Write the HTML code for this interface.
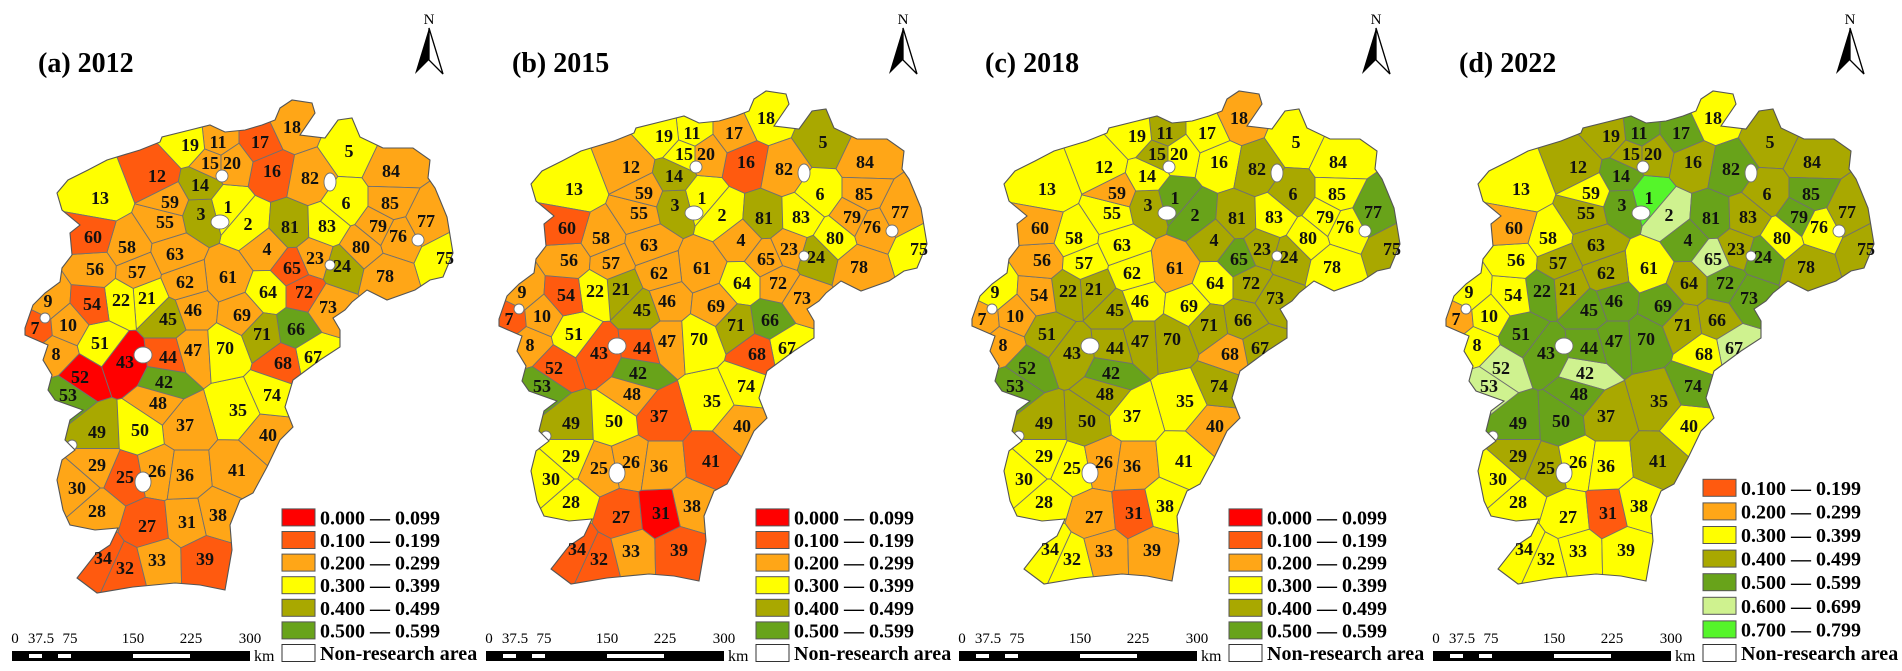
<!DOCTYPE html>
<html><head><meta charset="utf-8"><style>
html,body{margin:0;padding:0;background:#fff;}
svg{display:block;}
text{font-family:"Liberation Serif",serif;}
</style></head><body>
<svg id="fig" width="1902" height="671" viewBox="0 0 1902 671" xmlns="http://www.w3.org/2000/svg"></svg>
<script>
// region ids 1..85
const regionIds = Array.from({length:85},(_,i)=>i+1);
// class index per region (0: 0.0-0.099 ... 7: 0.7-0.799), ordered by region id
const class2012 = [3,3,4,2,3,3,1,2,2,2, 2,1,3,4,2,1,1,2,3,2, 3,3,2,4,1,2,1,2,2,2, 2,1,2,1,3,2,2,2,1,2, 2,5,0,1,4,2,2,2,4,3, 3,0,5,1,2,2,2,2,2,1, 2,2,2,3,1,5,3,1,2,3, 4,1,2,3,3,2,2,2,2,2, 4,2,3,2,2];
const class2015 = [3,3,4,2,4,3,1,2,2,2, 3,2,3,4,3,1,2,3,3,2, 4,3,2,4,2,2,1,3,3,3, 0,1,2,1,3,2,1,2,1,2, 1,5,1,1,4,2,2,2,4,3, 3,1,5,1,2,2,2,2,2,1, 2,2,2,3,2,5,3,1,2,3, 4,2,2,3,3,2,2,2,2,3, 4,2,3,2,2];
const class2018 = [5,5,4,4,3,4,2,2,3,2, 4,3,3,3,4,3,3,2,3,3, 4,4,4,4,3,2,2,3,3,3, 1,3,2,3,3,2,3,3,2,2, 3,5,4,4,4,3,4,4,4,4, 4,5,5,2,3,2,3,3,2,2, 2,3,3,3,5,4,4,2,3,4, 4,4,4,4,4,3,5,3,3,3, 4,4,3,3,3];
const class2022 = [7,6,5,5,4,4,2,3,3,3, 5,4,3,5,4,4,5,3,4,4, 4,5,4,5,4,3,3,3,4,3, 1,3,3,3,4,3,4,3,3,3, 4,6,5,5,5,5,5,5,5,5, 5,6,6,3,4,3,4,3,3,2, 3,4,4,4,6,4,6,3,5,5, 4,5,5,5,4,3,4,4,5,3, 5,5,4,4,5];
const panelTitles = ["(a) 2012","(b) 2015","(c) 2018","(d) 2022"];
const classLabels = ["0.000 — 0.099","0.100 — 0.199","0.200 — 0.299","0.300 — 0.399","0.400 — 0.499","0.500 — 0.599","0.600 — 0.699","0.700 — 0.799"];
const scaleLabels = ["0","37.5","75","150","225","300"];

const COLORS = ["#ff0000","#ff5a0f","#ffa617","#ffff00","#a9a800","#68a31a","#cff28f","#55f52a"];
// label anchor sites (map geometry, panel-local coords)
const SITES = [[228,207],[248,224],[201,214],[267,249],[349,151],[346,203],[35,328],[56,354],[48,301],[68,325],
[218,142],[157,176],[100,198],[200,185],[210,163],[272,171],[260,142],[292,127],[190,145],[232,163],
[147,298],[121,300],[315,258],[342,266],[125,477],[157,471],[147,526],[97,511],[97,465],[77,488],
[187,522],[125,568],[157,560],[103,558],[238,410],[185,475],[185,425],[218,515],[205,559],[268,435],
[237,470],[164,382],[125,362],[168,357],[168,319],[193,310],[193,350],[158,403],[97,432],[140,430],
[100,343],[80,377],[68,395],[92,304],[165,222],[95,269],[137,272],[127,247],[170,202],[93,237],
[228,277],[185,282],[175,254],[268,292],[292,268],[296,329],[313,357],[283,363],[242,315],[225,348],
[262,334],[304,292],[328,307],[272,395],[445,258],[398,236],[426,221],[385,276],[378,226],[361,247],
[290,227],[310,178],[327,226],[391,171],[390,203]];
const OUTLINE = [[25,328],[33,305],[45,293],[60,282],[62,268],[72,255],[70,233],[80,225],[62,210],[57,193],[68,180],[88,170],[107,160],[140,150],[160,142],[162,137],[190,130],[210,125],[225,132],[245,130],[262,125],[275,120],[280,108],[292,100],[312,103],[315,113],[300,135],[325,138],[338,120],[352,118],[360,137],[383,148],[413,148],[430,160],[428,178],[435,188],[440,200],[447,217],[453,253],[443,277],[430,280],[415,290],[387,300],[367,290],[352,302],[345,310],[333,318],[340,330],[340,347],[320,360],[293,380],[285,407],[293,427],[280,440],[267,467],[253,493],[240,500],[230,525],[232,550],[225,590],[200,585],[175,583],[133,587],[97,593],[77,578],[95,555],[110,545],[118,528],[95,530],[70,525],[63,510],[57,480],[62,460],[75,450],[65,440],[70,420],[83,410],[55,400],[48,390],[52,375],[43,360],[48,345],[25,335]];
const HOLES = [[220,222,9,7],[222,176,6,6],[330,182,6,9],[418,240,6,6],[330,265,5,5],[143,355,9,8],[143,482,8,10],[45,318,5,5],[72,445,5,5]];
const panelX = [0,474,947,1421];
const panelDy = [0,-9,-9,-9];
const NS="http://www.w3.org/2000/svg";
const svg=document.getElementById('fig');
function mk(tag,attrs,parent){const e=document.createElementNS(NS,tag);for(const k in attrs)e.setAttribute(k,attrs[k]);(parent||svg).appendChild(e);return e;}
function clip(poly,a,b){ // keep points closer to a than b
  const mx=(a[0]+b[0])/2,my=(a[1]+b[1])/2,nx=b[0]-a[0],ny=b[1]-a[1];
  const f=p=>(p[0]-mx)*nx+(p[1]-my)*ny;
  const out=[];
  for(let i=0;i<poly.length;i++){const p=poly[i],q=poly[(i+1)%poly.length];const fp=f(p),fq=f(q);
    if(fp<=0)out.push(p);
    if((fp<0&&fq>0)||(fp>0&&fq<0)){const t=fp/(fp-fq);out.push([p[0]+t*(q[0]-p[0]),p[1]+t*(q[1]-p[1])]);}}
  return out;}
const cells=SITES.map((s,i)=>{let poly=[[0,80],[470,80],[470,610],[0,610]];SITES.forEach((o,j)=>{if(j!==i)poly=clip(poly,s,o);});return poly;});
const pts=p=>p.map(q=>q[0].toFixed(1)+','+q[1].toFixed(1)).join(' ');
const defs=mk('defs',{});
const cp=mk('clipPath',{id:'mapclip'},defs);
mk('polygon',{points:pts(OUTLINE)},cp);
const allClasses=[class2012,class2015,class2018,class2022];

allClasses.forEach((cls,pi)=>{
  const g=mk('g',{transform:`translate(${panelX[pi]},0)`});
  
  
  const t=mk('text',{x:38,y:72,'font-size':28,'font-weight':'bold',fill:'#000'},g);
  t.textContent=panelTitles[pi];
  
  
  // north arrow
  const na=mk('g',{},g);
  
  
  const nt=mk('text',{x:429,y:24,'font-size':15,'text-anchor':'middle','font-family':'Liberation Sans, sans-serif',fill:'#000'},na);nt.textContent='N';
  mk('polygon',{points:'429,28 415,74 429,60',fill:'#000'},na);
  mk('polygon',{points:'429,28 443,74 429,60',fill:'#fff',stroke:'#000','stroke-width':1.3},na);
  // map
  const m=mk('g',{transform:`translate(0,${panelDy[pi]})`},g);
  const mc=mk('g',{'clip-path':'url(#mapclip)'},m);
  regionIds.forEach((id,i)=>{
    const p=mk('polygon',{points:pts(cells[i]),fill:COLORS[cls[i]],stroke:'#707070','stroke-width':0.9},mc);
    
    
  });
  HOLES.forEach(h=>{const e=mk('ellipse',{cx:h[0],cy:h[1],rx:h[2],ry:h[3],fill:'#fff',stroke:'#707070','stroke-width':0.9},mc);
    
    });
  mk('polygon',{points:pts(OUTLINE),fill:'none',stroke:'#555','stroke-width':1.1},m);
  regionIds.forEach((id,i)=>{
    const tx=mk('text',{x:SITES[i][0],y:SITES[i][1]+6,'font-size':18,'font-weight':'bold','text-anchor':'middle',fill:'#111'},m);
    tx.textContent=id;
    
    
  });
  // legend
  const lg=mk('g',{},g);
  
  
  const used = pi<3 ? [0,1,2,3,4,5] : [1,2,3,4,5,6,7];
  const step = pi<3 ? 22.6 : 23.6;
  used.forEach((c,k)=>{
    const cy=653-step*(used.length-k);
    const r=mk('rect',{x:282,y:cy-8.5,width:33,height:17,fill:COLORS[c],stroke:'#555','stroke-width':1},lg);
    
    
    const lt=mk('text',{x:320,y:cy+7,'font-size':20,'font-weight':'bold',fill:'#000'},lg);
    lt.textContent=classLabels[c];
    
    
  });
  mk('rect',{x:282,y:644.5,width:33,height:17,fill:'#fff',stroke:'#333','stroke-width':1},lg);
  const nr=mk('text',{x:320,y:660,'font-size':20,'font-weight':'bold',fill:'#000'},lg);nr.textContent='Non-research area';
  
  
  // scale bar
  const sb=mk('g',{},g);
  
  
  const lx=[15,41,70,133,191,250];
  scaleLabels.forEach((s,k)=>{const st=mk('text',{x:lx[k],y:643,'font-size':15,'text-anchor':'middle',fill:'#000'},sb);st.textContent=s;});
  mk('rect',{x:12,y:651,width:238,height:10,fill:'#000'},sb);
  [[29,42],[58,71],[133,190]].forEach(w=>mk('rect',{x:w[0],y:654,width:w[1]-w[0],height:4,fill:'#fff'},sb));
  const km=mk('text',{x:254,y:661,'font-size':16,fill:'#000'},sb);km.textContent='km';
});
</script>
</body></html>
